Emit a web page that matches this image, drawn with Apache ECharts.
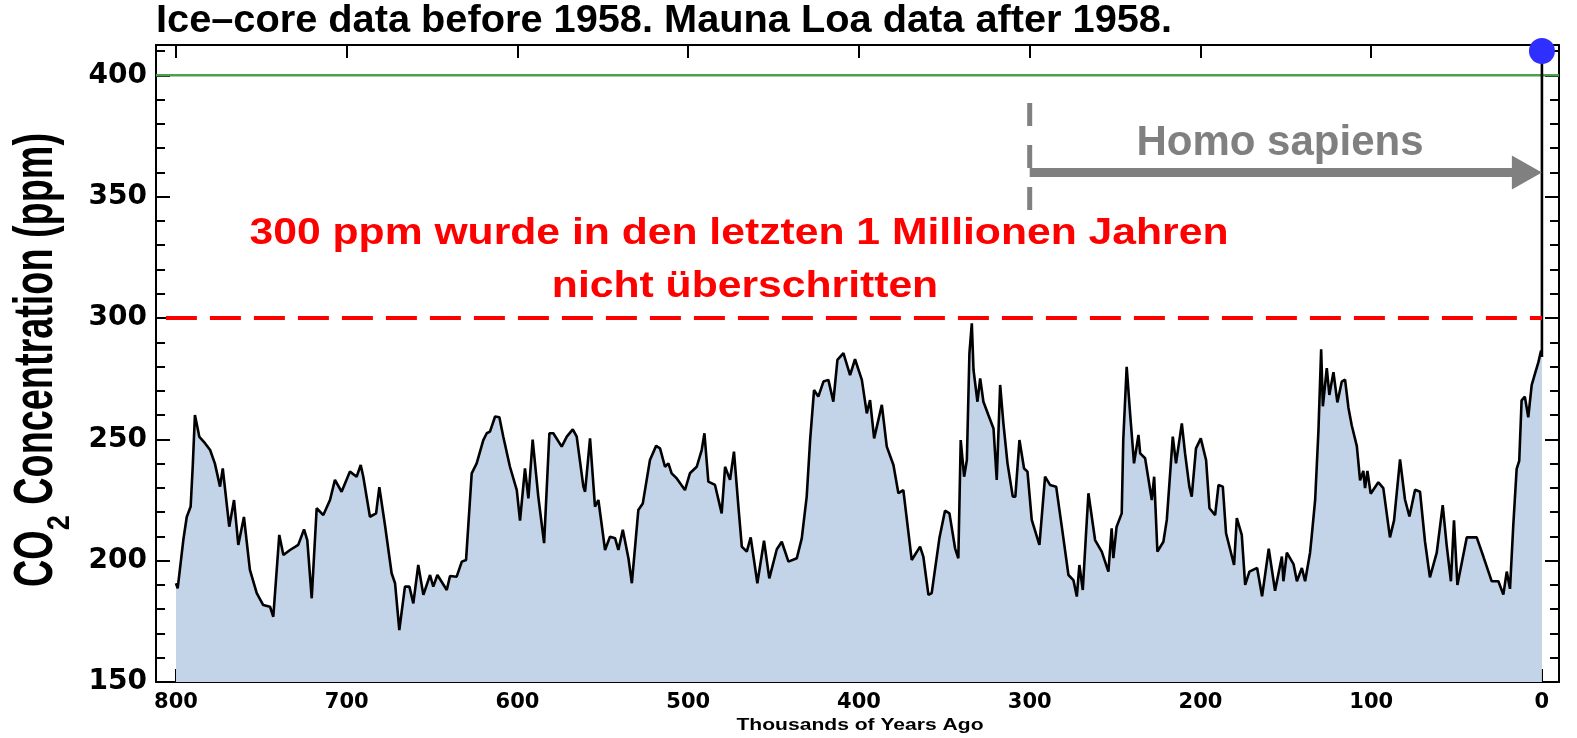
<!DOCTYPE html>
<html>
<head>
<meta charset="utf-8">
<title>CO2 800000 Jahre</title>
<style>
  html, body { margin: 0; padding: 0; background: #fff; }
  #chart { width: 1577px; height: 738px; }
</style>
<script src="https://cdn.jsdelivr.net/npm/echarts@6.0.0/dist/echarts.min.js"></script>
</head>
<body>
<div id="chart"></div>
<script>
// ice core record: thousands of years ago / ppm
var iceAge = [
  800, 799, 795.7, 793.7, 791.4, 790.2, 788.9, 786.3, 783, 780, 777.2, 774.2, 772.6, 768.8, 766, 763.5, 760.2,
  756.7, 752.7, 748.9, 744.9, 743, 739.5, 737.1, 733.2, 728.4, 725, 723.1, 720.5, 717.6, 713.7, 709.8, 706.9,
  703, 698.1, 694.2, 691.8, 690.3, 686.4, 682.8, 680.9, 677.6, 673.7, 671.7, 669.2, 665.9, 663.3, 661, 658.1,
  655.1, 651.2, 649.3, 646.9, 641.4, 639.5, 635.6, 632.6, 630.1, 626.8, 623.9, 620, 618, 616.1, 613.1, 610.6,
  608.3, 604.4, 600.4, 598.5, 595.6, 593.6, 591.1, 587.8, 584.4, 581.3,
  579, 574.1, 571.1, 567.6, 565.3, 561.4, 560.4, 557.5, 554.6, 552.6, 548.7, 545.8, 542.8, 540.9, 538.3, 535,
  533, 529.2, 526.6, 522.4, 518.8, 516.5, 513.6, 511.6, 509.7, 506.7, 501.9, 499, 495, 492.1, 490.5, 488.2,
  484.3, 480.4, 478.4, 475.5, 473.2, 470.6, 468.6, 465.7, 463.4, 459.5, 455.6, 452.5, 448.1, 445.2, 441.3,
  436.4, 433.5, 430.6, 428.6, 426.3, 423.8, 420.8, 417.9, 415, 412.6, 409.1, 405.2, 402.3, 398.3, 395.4,
  393.5, 391.1, 386.6, 383.7, 379.8, 376.9, 374, 369.1, 364.2, 362.3, 359.3, 357.4, 352.9, 349.6, 347,
  343.7, 341.8, 340.4, 338.4, 336.8, 335.3, 333.9, 332.9, 330.6, 329, 327.1, 324.2, 321.2, 319.3, 317.3,
  315.4, 313, 309.9, 308.4, 306, 303.3, 301.3, 298.8, 294.3, 291, 288.1, 284.5, 281.2, 277.3, 274.4, 272.4,
  270.9, 268.9, 267, 265.6, 261.7, 257.8, 253.9, 252, 251, 249.1, 246.1, 245.2, 243.2, 241.2, 238.9, 236.3,
  235.3, 232.4, 228.5, 227.1, 225.2, 221.7, 219.7, 216.2, 214.3, 210.9, 209, 206.5, 205.1, 202.6, 199.8,
  196.7, 194.7, 191.4, 189.4, 186.9, 185, 180.3, 178.7, 175.8, 173.8, 171.3,
  166.8, 163.9, 160, 156.3, 152.3, 151.4, 149.4, 145.5, 143.5, 140.6, 138.7, 135.8, 134.8, 132.8, 130.9,
  129.3, 128.3, 126, 124.5, 122.1, 119.8, 117.2, 115.3, 113.3, 111.4, 108.4, 106.5, 104.6, 103.6, 102.2,
  100.3, 95.8, 92.9, 89, 86.6, 83.1, 80.2, 77.6, 74.3, 71.4, 68.5, 65.6, 61.6, 58.1, 55.8, 53.3, 51.5, 49.5,
  44, 38.2, 34.3, 29.4, 25.5, 22.6, 20.6, 18.7, 16.8, 14.8, 13.3, 11.9, 10, 8, 6, 4.1, 2.1, 0.5, 0
];
var iceCO2 = [
  190.7, 188.6, 208.5, 218, 222.3, 238.7, 260, 251, 248.4, 245.6, 240, 230.5, 238, 214, 225, 206.5, 218,
  196.2, 186.6, 181.7, 181, 176.9, 210.6, 202.3, 204.4, 206.5, 212.9, 208.5, 184.5, 221.6, 218.8, 225, 233.3,
  228.4, 236.7, 234.6, 239.4, 234.6, 218.1, 219.5, 230.3, 214.7, 194.8, 190.7, 171.4, 189.3, 189.3, 182.4, 198.2,
  185.9, 194.1, 189.3, 194.1, 187.9, 193.7, 193.4, 199.6, 200.3, 236, 240.1, 249.7, 252.5, 253.2, 259.4, 259.1,
  251.1, 238.7, 229.1, 216.5, 238, 225.7, 249.9, 226.4, 207.2, 252.5,
  252.5, 247, 251.1, 254.1, 251.1, 230.5, 228.4, 250.4, 222.3, 225, 204.4, 209.9, 209.2, 204.4, 212.7, 201,
  190.7, 220.9, 223.6, 241.5, 247.3, 246.3, 238.7, 240.1, 236, 233.9, 229.1, 236, 238.7, 245.6, 252.5, 232.6,
  231.2, 219.5, 238.7, 233.3, 244.9, 222.3, 205.8, 203.7, 209.6, 190.7, 208.2, 192.7, 204.7, 207.8, 199.6,
  201, 209.2, 226.4, 249.7, 270.3, 267.6, 273.8, 274.5, 265.5, 282.7, 285.5, 276.5, 283, 274.5, 260.7,
  266.2, 250.4, 264.2, 247, 239.4, 227.8, 229.1, 200.3, 205.8, 201.7, 185.9, 186.6, 209.2, 220.6, 219.5,
  205.1, 201, 249.7, 234.6, 241.5, 285.5, 297.8, 278.6, 265.5, 275.1, 265.5, 260, 254.5, 233.3, 272.4,
  256.6, 240.1, 226.4, 226.4, 249.7, 238, 236.7, 216.8, 206.5, 234.6, 231.2, 230.5, 214, 194.1, 192, 185.2,
  198.2, 187.9, 211.3, 227.8, 208.5, 203.7, 195.5, 213.3, 201, 214, 219.5, 249.7, 279.9, 260.7, 240.1, 251.8,
  244.2, 242.2, 225, 234.6, 203.7, 207.8, 216.8, 251.1, 240.1, 256.6, 244.2, 230.5, 226.4, 246.3, 250.4,
  241.5, 221.6, 218.8, 231.2, 230.5, 211.3, 198.2, 217.5, 210.6, 190, 195.5,
  197, 185.3, 204.9, 187.6, 201.7, 191.5, 203.3, 198.6, 191.5, 197, 191.5, 203.3, 210.3, 225.2, 253.4,
  287.1, 263.6, 279.3, 268.3, 277.7, 265.2, 273.8, 274.6, 262.9, 255.8, 247.2, 233.1, 237, 229.9, 237,
  227.6, 232.3, 229.9, 209.6, 216.6, 241.7, 225.2, 218.2, 229.2, 228.4, 208, 193.1, 203.3, 222.9, 206.4, 191.5, 216.6, 190,
  209.6, 209.6, 201.7, 191.5, 191.5, 186, 195.5, 188.4, 214.3, 237.8, 241.1, 266.1, 267.6, 259.1, 272.3, 277, 281.7, 286.6, 284
];
// Mauna Loa spike at the right edge
var modernAge = [0, 0];
var modernCO2 = [284, 410];

var xTicks = [800, 700, 600, 500, 400, 300, 200, 100, 0];
var yTicks = [150, 200, 250, 300, 350, 400];
var yMinorTicks = [160, 170, 180, 190, 210, 220, 230, 240, 260, 270, 280, 290,
  310, 320, 330, 340, 360, 370, 380, 390, 410];

var limitPPM = 300;       // red dashed limit
var greenPPM = 400;       // green reference
var sapiensAge = 300;     // Homo sapiens start, kyr
var sapiensArrowPPM = 360;
var sapiensDashTop = 388.6;
var sapiensDashBottom = 344.5;

var X_MIN = -10, X_MAX = 811.7, Y_MIN = 150, Y_MAX = 412.5;

function pairs(xs, ys) {
  return xs.map(function (x, i) { return [x, ys[i]]; });
}

var ctx = document.createElement('canvas').getContext('2d');
function textWidth(text, font) {
  ctx.font = font;
  return ctx.measureText(text).width;
}

var FAMILY = '"Liberation Sans", Arial, sans-serif';
var TICK_FAMILY = '"DejaVu Sans", sans-serif';

function frameAxisX(position, labels) {
  return {
    type: 'value', position: position, inverse: true, min: X_MIN, max: X_MAX,
    axisLine: { show: true, onZero: false, lineStyle: { color: '#000', width: 2 } },
    axisTick: { show: true, inside: true, length: 13, customValues: xTicks,
      lineStyle: { color: '#000', width: 2 } },
    axisLabel: { show: labels, customValues: xTicks, fontFamily: TICK_FAMILY, fontWeight: 'bold',
      fontSize: 21, color: '#000', margin: 10 },
    splitLine: { show: false }
  };
}

function frameAxisY(position, minor, labels) {
  return {
    type: 'value', position: position, min: Y_MIN, max: Y_MAX,
    axisLine: { show: !minor, onZero: false, lineStyle: { color: '#000', width: 2 } },
    axisTick: { show: true, inside: true, length: minor ? 9 : 14,
      customValues: minor ? yMinorTicks : yTicks, lineStyle: { color: '#000', width: 2 } },
    axisLabel: { show: labels, customValues: yTicks, fontFamily: TICK_FAMILY, fontWeight: 'bold',
      fontSize: 28, color: '#000', margin: 9 },
    splitLine: { show: false }
  };
}

// texts
var titleText = 'Ice\u2013core data before 1958. Mauna Loa data after 1958.';
var titleFont = 'bold 38px ' + FAMILY;
var redLine1 = '300 ppm wurde in den letzten 1 Millionen Jahren';
var redLine2 = 'nicht überschritten';
var redFont = 'bold 37px ' + FAMILY;
var redScale = 979 / textWidth(redLine1, redFont);
var xNameText = 'Thousands of Years Ago';
var xNameFont = 'bold 16px ' + FAMILY;
var yFont = 'bold 42px ' + FAMILY;
var ySubFont = 'bold 30px ' + FAMILY;
var yScale = 454 / (textWidth('CO Concentration (ppm)', yFont) + textWidth('2', ySubFont));
var yThick = 1.3;
var wCO = textWidth('CO', yFont) * yScale;
var w2 = textWidth('2', ySubFont) * yScale;
var yBottom = 587;

var graphics = [
  { type: 'text', x: 156, y: 22, scaleX: 1016 / textWidth(titleText, titleFont),
    style: { text: titleText, font: titleFont, fill: '#000', align: 'left', verticalAlign: 'middle' } },
  { type: 'text', x: 739, y: 234, scaleX: redScale,
    style: { text: redLine1, font: redFont, fill: '#ff0000', align: 'center', verticalAlign: 'middle' } },
  { type: 'text', x: 745, y: 287, scaleX: redScale,
    style: { text: redLine2, font: redFont, fill: '#ff0000', align: 'center', verticalAlign: 'middle' } },
  { type: 'text', x: 1280, y: 143,
    style: { text: 'Homo sapiens', font: 'bold 42px ' + FAMILY, fill: '#808080', align: 'center', verticalAlign: 'middle' } },
  { type: 'text', x: 860, y: 726, scaleX: 247 / textWidth(xNameText, xNameFont),
    style: { text: xNameText, font: xNameFont, fill: '#000', align: 'center', verticalAlign: 'middle' } },
  { type: 'text', x: 37, y: yBottom, rotation: Math.PI / 2, scaleX: yScale, scaleY: yThick,
    style: { text: 'CO', font: yFont, fill: '#000', align: 'left', verticalAlign: 'middle' } },
  { type: 'text', x: 60, y: yBottom - wCO, rotation: Math.PI / 2, scaleX: yScale, scaleY: yThick * 0.8,
    style: { text: '2', font: ySubFont, fill: '#000', align: 'left', verticalAlign: 'middle' } },
  { type: 'text', x: 37, y: yBottom - wCO - w2, rotation: Math.PI / 2, scaleX: yScale, scaleY: yThick,
    style: { text: ' Concentration (ppm)', font: yFont, fill: '#000', align: 'left', verticalAlign: 'middle' } }
];

var chart = echarts.init(document.getElementById('chart'));
chart.setOption({
  animation: false,
  backgroundColor: '#fff',
  grid: { left: 156, right: 18, top: 45, bottom: 56 },
  xAxis: [frameAxisX('bottom', true), frameAxisX('top', false)],
  yAxis: [frameAxisY('left', false, true), frameAxisY('left', true, false),
          frameAxisY('right', false, false), frameAxisY('right', true, false)],
  series: [
    {
      name: 'Ice core', type: 'line', data: pairs(iceAge, iceCO2),
      symbol: 'none', lineStyle: { color: '#000', width: 2.6 },
      areaStyle: { color: '#c3d4e8', opacity: 1, origin: 'start' }, z: 3
    },
    {
      name: 'Mauna Loa', type: 'line', data: pairs(modernAge, modernCO2),
      symbol: 'none', lineStyle: { color: '#000', width: 2.6 }, z: 4
    },
    {
      name: '400 ppm', type: 'line', data: [[X_MAX, greenPPM], [X_MIN, greenPPM]],
      symbol: 'none', lineStyle: { color: '#4c9f4c', width: 2.5 }, z: 2
    },
    {
      name: '300 ppm', type: 'line', data: [[805.9, limitPPM], [0, limitPPM]],
      symbol: 'none', lineStyle: { color: '#ff0000', width: 4, type: [31, 13] }, z: 5
    },
    {
      name: 'sapiens start', type: 'line', data: [[sapiensAge, sapiensDashTop], [sapiensAge, sapiensDashBottom]],
      symbol: 'none', lineStyle: { color: '#808080', width: 5, type: [23, 19] }, z: 5
    },
    {
      name: 'sapiens arrow', type: 'line', data: [[sapiensAge, sapiensArrowPPM], [12, sapiensArrowPPM]],
      symbol: 'none', lineStyle: { color: '#808080', width: 9, cap: 'butt' }, z: 5
    },
    {
      name: 'arrow head', type: 'scatter', data: [[8.8, sapiensArrowPPM]],
      symbol: 'triangle', symbolSize: [34, 30], symbolRotate: -90,
      itemStyle: { color: '#808080', opacity: 1 }, z: 5
    },
    {
      name: 'today', type: 'scatter', data: [[modernAge[1], modernCO2[1]]],
      symbolSize: 26, itemStyle: { color: '#2f2fff', opacity: 1 }, clip: false, z: 6
    }
  ],
  graphic: graphics
});
</script>
</body>
</html>
